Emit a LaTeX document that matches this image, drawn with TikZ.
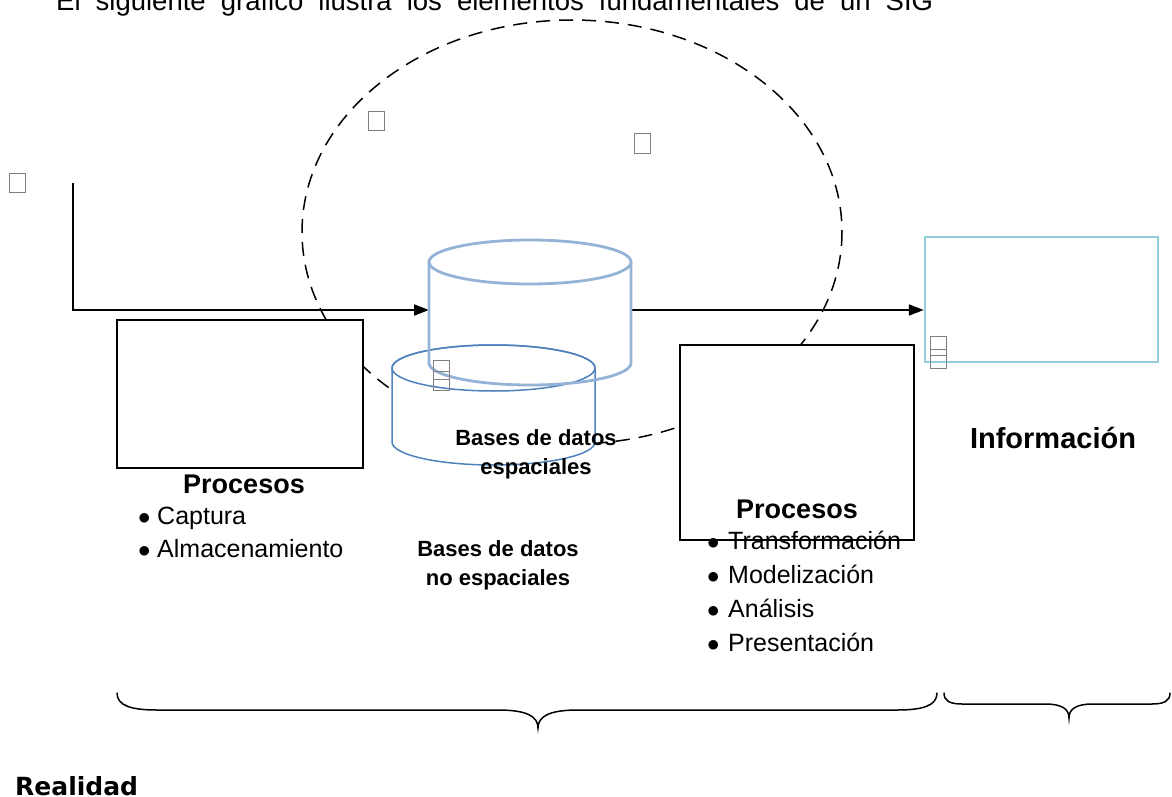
\documentclass[tikz,border=0pt]{standalone}
\usepackage{fontspec}
\setmainfont{Liberation Sans}
\newfontfamily\heavyfont{DejaVu Sans}
\usetikzlibrary{arrows.meta,positioning}

\definecolor{dbtop}{HTML}{95B3D7}
\definecolor{dbbottom}{HTML}{4F81BD}
\definecolor{infoline}{HTML}{92CDDC}

\newcommand{\listdot}[1]{\makebox[#1][l]{$\bullet$}}

\tikzset{
  flow/.style={line width=1.8pt, -{Triangle[length=15pt,width=11pt]}},
  procbox/.style={draw, line width=1.5pt, fill=white, inner sep=0pt},
  orbit/.style={line width=1.5pt, dash pattern=on 14pt off 9pt},
  tofu/.style={draw=gray, line width=1pt, minimum width=16pt, minimum height=19pt, inner sep=0pt},
  bulletitem/.style={anchor=base west, inner sep=0pt, font=\fontsize{25}{30}\selectfont},
  heading/.style={anchor=base, inner sep=0pt, font=\fontsize{27}{32}\selectfont\bfseries},
  dblabel/.style={anchor=base, inner sep=0pt, font=\fontsize{22}{26}\selectfont\bfseries},
  curly/.style={line width=1.5pt, line cap=round}
}

\begin{document}
\begin{tikzpicture}[x=1pt, y=-1pt]
  \useasboundingbox (0,0) rectangle (1172,797);
  \clip (0,0) rectangle (1172,797);

  % title, cut at the top edge
  \node[anchor=base west, inner sep=0pt, font=\fontsize{27.5}{32}\selectfont] (title) at (56,11)
    {\makebox[877pt][s]{El siguiente gráfico ilustra los elementos fundamentales de un SIG}};

  % dashed ring
  \draw[orbit] (572,232) ellipse [x radius=270, y radius=212];

  % flow line and arrows
  \coordinate (src) at (73,183);
  \coordinate (dbAin) at (429,310);
  \coordinate (dbAout) at (631,310);
  \node[draw=infoline, line width=2.5pt, minimum width=233pt, minimum height=125pt, inner sep=0pt] (info) at (1041.5,299.5) {};
  \draw[flow] (src) |- (dbAin);
  \draw[flow] (dbAout) -- (info.west |- dbAout);

  % process boxes
  \node[procbox, minimum width=246pt, minimum height=148pt] (procA) at (240,394) {};
  \node[procbox, minimum width=234pt, minimum height=195pt] (procB) at (797,442.5) {};

  % non spatial data base
  \def\dbBx{392}
  \def\dbBrx{101.5}
  \def\dbBry{23}
  \draw[dbbottom, line width=1.5pt, fill=white] (\dbBx,368) -- (\dbBx,442)
    arc[start angle=180, end angle=0, x radius=\dbBrx, y radius=\dbBry] -- (\dbBx+2*\dbBrx,368)
    arc[start angle=0, end angle=-180, x radius=\dbBrx, y radius=\dbBry] -- cycle;
  \draw[dbbottom, line width=1.5pt] (\dbBx+\dbBrx,368) ellipse [x radius=\dbBrx, y radius=\dbBry];

  % spatial data base
  \def\dbAx{429}
  \def\dbArx{101}
  \def\dbAry{22}
  \draw[dbtop, line width=2.8pt] (\dbAx,262) -- (\dbAx,363)
    arc[start angle=180, end angle=0, x radius=\dbArx, y radius=\dbAry] -- (\dbAx+2*\dbArx,262);
  \draw[dbtop, line width=2.8pt] (\dbAx+\dbArx,262) ellipse [x radius=\dbArx, y radius=\dbAry];

  % missing glyph boxes
  \node[tofu] (tofuA) at (17,183) {};
  \node[tofu] (tofuB) at (376.5,121) {};
  \node[tofu] (tofuC) at (642,143.5) {};
  \node[tofu] (tofuD) at (441,369.5) {};
  \node[tofu] (tofuE) at (441,381) {};
  \node[tofu] (tofuF) at (938,345.5) {};
  \node[tofu] (tofuG) at (938,358.5) {};

  % texts
  \node[heading] (procAhead) at (244,493) {Procesos};
  \node[bulletitem] (capt) at (138,524) {\listdot{19pt}Captura};
  \node[bulletitem] (store) at (138,557) {\listdot{19pt}Almacenamiento};
  \node[heading] (procBhead) at (797,518) {Procesos};
  \foreach \txt [count=\i] in {Transformación, Modelización, Análisis, Presentación}
    \node[bulletitem] (step\i) at (707,{549+34*(\i-1)}) {\listdot{21pt}\txt};
  \node[heading, font=\fontsize{29}{34}\selectfont\bfseries] (infolabel) at (1053,448) {Información};
  \node[dblabel] (dbAlabelA) at (536,445) {Bases de datos};
  \node[dblabel] (dbAlabelB) at (536,474) {espaciales};
  \node[dblabel] (dbBlabelA) at (498,556) {Bases de datos};
  \node[dblabel] (dbBlabelB) at (498,585) {no espaciales};

  % braces
  \draw[curly] (117,693) .. controls (117,706) and (132,710) .. (157,710) -- (498,710)
    .. controls (526,710) and (538,716) .. (538,728)
    .. controls (538,716) and (550,710) .. (578,710) -- (897,710)
    .. controls (922,710) and (937,706) .. (937,693);
  \draw[curly] (944,693) .. controls (944,701) and (950,704) .. (962,704) -- (1045,704)
    .. controls (1062,704) and (1069,709) .. (1069,718)
    .. controls (1069,709) and (1076,704) .. (1093,704) -- (1152,704)
    .. controls (1164,704) and (1170,701) .. (1170,693);

  \node[anchor=base west, inner sep=0pt, font=\fontsize{25}{29}\heavyfont\bfseries] (reality) at (15,795) {Realidad};
\end{tikzpicture}
\end{document}
